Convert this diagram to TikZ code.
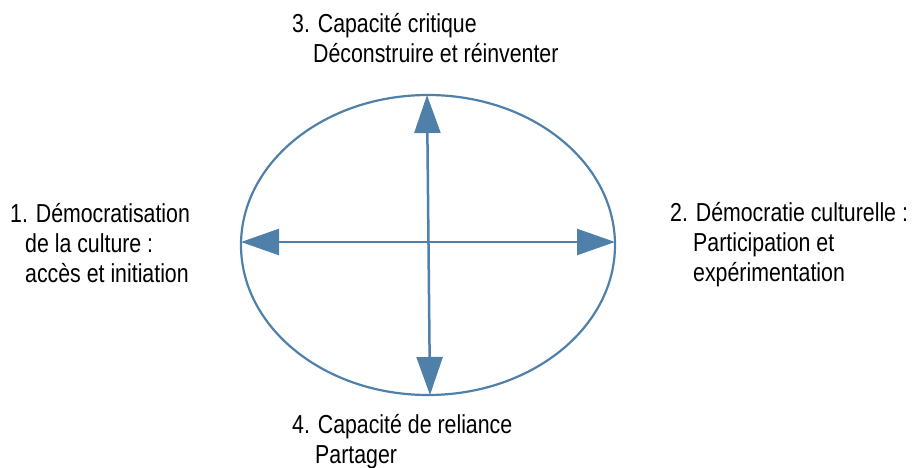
\documentclass[tikz,border=0pt]{standalone}
\usepackage{fontspec}
\setmainfont{Liberation Sans}[FakeStretch=0.82]
\usepackage{xcolor}
\usetikzlibrary{positioning,arrows.meta,shapes.geometric}
\definecolor{axisblue}{RGB}{78,128,170}

\begin{document}
\begin{tikzpicture}[
		x=1pt, y=-1pt,
		oval/.style={
			ellipse, draw=axisblue, line width=2.2pt,
			minimum width=374pt, minimum height=300pt,
			inner sep=0pt
		},
		axis/.style={
			{Triangle[length=38pt, width=26pt]}-{Triangle[length=38pt, width=26pt]},
			axisblue, line width=2.5pt
		},
		lbl/.style={
			font=\fontsize{26}{30}\selectfont,
			inner sep=0pt, anchor=base west, align=left
		}
		]
		\useasboundingbox (0,0) rectangle (915,468);
		
		% === ELLIPSE ===
		\node[oval] (oval) at (428,245) {};
		
		% Points where the arrows touch the ellipse
		\coordinate (ptW) at (241,242);
		\coordinate (ptE) at (615,242);
		\coordinate (ptN) at (427,95);
		\coordinate (ptS) at (430,395);
		
		% Axes
		\draw[axis] (ptW) -- (ptE);
		\draw[axis] (ptN) -- (ptS);
		
		% === LABELS (anchored on the last line) ===
		\node[lbl] (left) at (10,282) {1. Démocratisation\\\hspace*{15pt}de la culture :\\\hspace*{15pt}accès et initiation};
		\node[lbl] (right) at (670,281) {2. Démocratie culturelle :\\\hspace*{23pt}Participation et\\\hspace*{23pt}expérimentation};
		\node[lbl] (top) at (292,63) {3. Capacité critique\\\hspace*{21pt}Déconstruire et réinventer};
		\node[lbl] (bottom) at (292,463) {4. Capacité de reliance\\\hspace*{23pt}Partager};
		
\end{tikzpicture}
\end{document}
